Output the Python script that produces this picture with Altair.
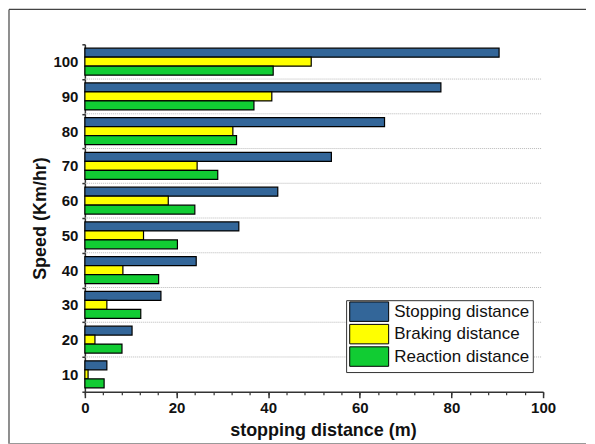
import altair as alt
import pandas as pd

speeds = [10, 20, 30, 40, 50, 60, 70, 80, 90, 100]
stopping = [4.8, 10.3, 16.6, 24.3, 33.6, 42.1, 53.8, 65.4, 77.7, 90.4]
braking = [0.7, 2.2, 4.8, 8.3, 12.8, 18.2, 24.5, 32.3, 40.8, 49.4]
reaction = [4.2, 8.1, 12.2, 16.1, 20.2, 24.0, 29.0, 33.1, 36.9, 41.1]
series = ["Stopping distance", "Braking distance", "Reaction distance"]
colors = ["#336699", "#FFFF00", "#11CC33"]
major_ticks = [0, 20, 40, 60, 80, 100]
minor_ticks = list(range(0, 101, 4))

rows = []
for i, s in enumerate(speeds):
    rows.append({"speed": s, "series": series[0], "value": stopping[i]})
    rows.append({"speed": s, "series": series[1], "value": braking[i]})
    rows.append({"speed": s, "series": series[2], "value": reaction[i]})
df = pd.DataFrame(rows)
grid_df = pd.DataFrame({"speed": speeds[:-1]})

FONT = "Liberation Sans"

y_enc = alt.Y(
    "speed:O",
    sort="descending",
    scale=alt.Scale(paddingInner=0, paddingOuter=0),
    axis=alt.Axis(
        title="Speed (Km/hr)",
        titleFont=FONT, titleFontSize=18, titleFontWeight="bold", titleColor="#111",
        titlePadding=3,
        labelFont=FONT, labelFontSize=15, labelFontWeight="bold", labelColor="#111",
        labelAngle=0, labelPadding=4,
        tickBand="extent", tickSize=3, tickColor="#333", tickWidth=1.5,
        domainColor="#333", domainWidth=1.5, grid=False,
    ),
)

bars = alt.Chart(df).mark_bar(stroke="black", strokeWidth=1.2).encode(
    x=alt.X(
        "value:Q",
        scale=alt.Scale(domain=[0, 100], nice=False),
        axis=alt.Axis(
            orient="bottom",
            values=major_ticks, format="d",
            title="stopping distance (m)",
            titleFont=FONT, titleFontSize=18, titleFontWeight="bold", titleColor="#111",
            titlePadding=6, titleX=238.5,
            labelFont=FONT, labelFontSize=15, labelFontWeight="bold", labelColor="#111",
            labelPadding=3, labelFlush=False,
            tickSize=6, tickColor="#333", tickWidth=1.5,
            domainColor="#333", domainWidth=1.5, grid=False,
        ),
    ),
    y=y_enc,
    yOffset=alt.YOffset("series:N", sort=series,
                        scale=alt.Scale(paddingInner=0, paddingOuter=0.433)),
    color=alt.Color(
        "series:N", sort=series,
        scale=alt.Scale(domain=series, range=colors),
        legend=alt.Legend(
            title=None, orient="none", legendX=261.7, legendY=256.3,
            strokeColor="#333", padding=3, fillColor="white",
            symbolType="M-4,-2L4,-2L4,2L-4,2Z", symbolSize=95.06,
            symbolStrokeColor="black", symbolStrokeWidth=1, symbolOpacity=1,
            symbolOffset=11.6,
            labelFont=FONT, labelFontSize=17, labelColor="#111", labelOffset=16.6,
            rowPadding=-2.5,
        ),
    ),
)

rules = alt.Chart(grid_df).mark_rule(color="#b8b8b8", strokeDash=[1, 1], strokeWidth=1).encode(
    y=alt.Y("speed:O", sort="descending", bandPosition=0),
    x=alt.XDatum(0, axis=alt.Axis(orient="bottom", values=minor_ticks, labels=False,
                                  domain=False, title=None, tickSize=3,
                                  tickColor="#333", tickWidth=1.2, grid=False)),
    x2=alt.X2Datum(99.6),
)

one = pd.DataFrame({"a": [0]})
frame_top = alt.Chart(one).mark_rule(color="#444", strokeWidth=1.2).encode(
    x=alt.value(-76), x2=alt.value(502), y=alt.value(-35)
)
frame_left = alt.Chart(one).mark_rule(color="#444", strokeWidth=1.2).encode(
    x=alt.value(-76), y=alt.value(-35), y2=alt.value(400)
)
frame_bottom = alt.Chart(one).mark_rule(color="#999", strokeWidth=1.2).encode(
    x=alt.value(-76), x2=alt.value(502), y=alt.value(400)
)

chart = alt.layer(frame_top, frame_left, frame_bottom, rules, bars).resolve_axis(
    x="independent"
).properties(width=459, height=348, padding=0).configure_view(strokeWidth=0)

chart.save("out.html", embed_options={"renderer": "svg", "actions": False})
